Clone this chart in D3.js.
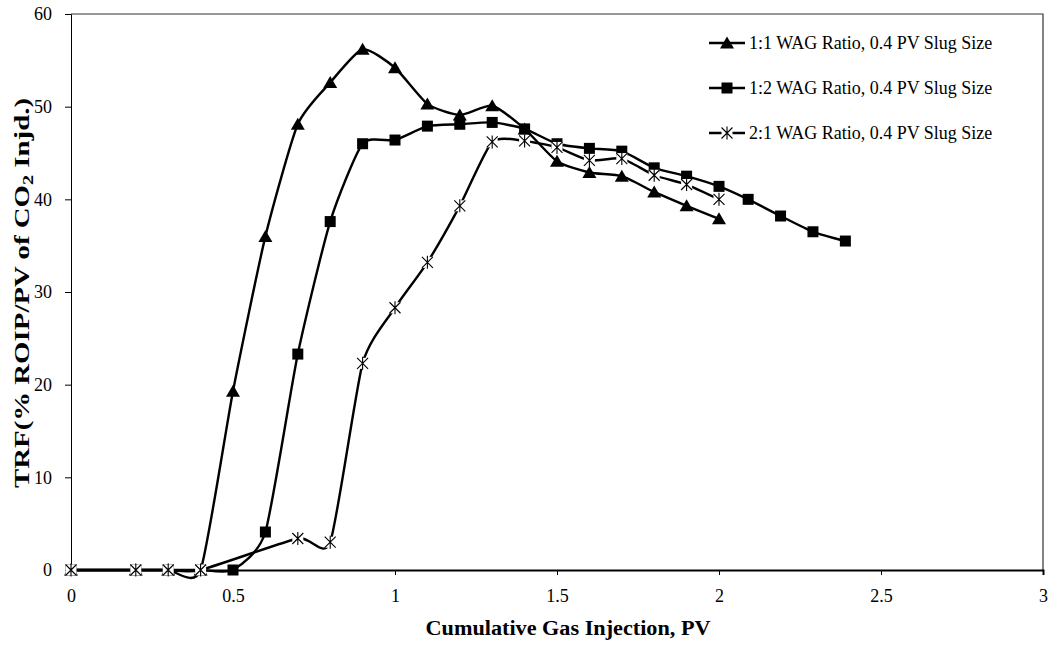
<!DOCTYPE html>
<html>
<head>
<meta charset="utf-8">
<script src="https://cdn.jsdelivr.net/npm/d3@7"></script>
<style>
  body { margin: 0; background: #fff; }
  svg { font-family: "Liberation Serif", "Times New Roman", serif; }
</style>
</head>
<body>
<div id="chart"></div>
<script>
// data
const names = [
    '1:1 WAG Ratio, 0.4 PV Slug Size',
    '1:2 WAG Ratio, 0.4 PV Slug Size',
    '2:1 WAG Ratio, 0.4 PV Slug Size'
];
const x11 = [0, 0.2, 0.3, 0.4, 0.5, 0.6, 0.7, 0.8, 0.9, 1.0, 1.1, 1.2, 1.3, 1.4, 1.5, 1.6, 1.7, 1.8, 1.9, 2.0];
const y11 = [0, 0, 0, 0, 19.3, 36.0, 48.1, 52.6, 56.2, 54.2, 50.3, 49.1, 50.1, 47.6, 44.1, 42.9, 42.5, 40.8, 39.3, 37.9];
const x12 = [0, 0.2, 0.3, 0.4, 0.5, 0.6, 0.7, 0.8, 0.9, 1.0, 1.1, 1.2, 1.3, 1.4, 1.5, 1.6, 1.7, 1.8, 1.9, 2.0, 2.09, 2.19, 2.29, 2.39];
const y12 = [0, 0, 0, 0, 0, 4.1, 23.3, 37.6, 46.0, 46.4, 47.9, 48.1, 48.3, 47.6, 46.0, 45.5, 45.2, 43.4, 42.5, 41.4, 40.0, 38.2, 36.5, 35.5];
const x21 = [0, 0.2, 0.3, 0.4, 0.7, 0.8, 0.9, 1.0, 1.1, 1.2, 1.3, 1.4, 1.5, 1.6, 1.7, 1.8, 1.9, 2.0];
const y21 = [0, 0, 0, 0, 3.4, 3.0, 22.3, 28.3, 33.2, 39.3, 46.2, 46.3, 45.6, 44.2, 44.4, 42.6, 41.6, 40.0];
const xTicks = [0, 0.5, 1, 1.5, 2, 2.5, 3];
const yTicks = [0, 10, 20, 30, 40, 50, 60];

const W = 1056, H = 646;
const margin = {top: 14, right: 13, bottom: 76, left: 71};
const width = W - margin.left - margin.right;
const height = H - margin.top - margin.bottom;

const svg = d3.select('#chart').append('svg')
    .attr('width', W)
    .attr('height', H);
const g = svg.append('g')
    .attr('transform', 'translate(' + margin.left + ',' + margin.top + ')');

const x = d3.scaleLinear().domain([0, 3]).range([0, width]);
const y = d3.scaleLinear().domain([0, 60]).range([height, 0]);

// plot frame (top and right)
g.append('path')
    .attr('d', 'M0,0H' + width + 'V' + height)
    .attr('fill', 'none')
    .attr('stroke', '#333')
    .attr('stroke-width', 1.2);

// axes
const xAxis = g.append('g')
    .attr('transform', 'translate(0,' + height + ')')
    .call(d3.axisBottom(x).tickValues(xTicks).tickSize(5).tickPadding(14).tickFormat(d => d));
const yAxis = g.append('g')
    .call(d3.axisLeft(y).tickValues(yTicks).tickSize(6).tickPadding(13));
[xAxis, yAxis].forEach(a => {
    a.select('.domain').attr('stroke', '#000');
    a.selectAll('.tick line').attr('stroke', '#000');
    a.selectAll('text').attr('font-size', 18).attr('fill', '#000')
        .attr('font-family', '"Liberation Serif", serif');
});
xAxis.select('.domain').attr('stroke-width', 2);

// axis titles
svg.append('text')
    .attr('x', 568)
    .attr('y', 635)
    .attr('text-anchor', 'middle')
    .attr('font-size', 20)
    .attr('font-weight', 'bold')
    .attr('textLength', 285)
    .attr('lengthAdjust', 'spacingAndGlyphs')
    .text('Cumulative Gas Injection, PV');

const yt = svg.append('text')
    .attr('transform', 'translate(29,488) rotate(-90)')
    .attr('text-anchor', 'start')
    .attr('font-size', 20)
    .attr('font-weight', 'bold')
    .attr('textLength', 390)
    .attr('lengthAdjust', 'spacingAndGlyphs');
yt.append('tspan').text('TRF(% ROIP/PV of CO');
yt.append('tspan').attr('font-size', 14).attr('dy', 4).text('2');
yt.append('tspan').attr('dy', -4).text(' Injd.)');

// marker shapes
function marker(sel, kind) {
    if (kind === 0) {
        sel.append('path').attr('d', 'M0,-6.5L7,5.5L-7,5.5Z').attr('fill', '#000');
    } else if (kind === 1) {
        sel.append('rect').attr('x', -5.5).attr('y', -5.5).attr('width', 11).attr('height', 11).attr('fill', '#000');
    } else {
        sel.append('rect').attr('x', -5.5).attr('y', -5.5).attr('width', 11).attr('height', 11).attr('fill', '#fff');
        sel.append('path').attr('d', 'M-5.5,-5.5L5.5,5.5M5.5,-5.5L-5.5,5.5M0,-6.5V6.5')
            .attr('stroke', '#000').attr('stroke-width', 1.1).attr('fill', 'none');
    }
}

const series = [
    {xs: x11, ys: y11},
    {xs: x12, ys: y12},
    {xs: x21, ys: y21}
];

const line = d3.line()
    .x(d => x(d[0]))
    .y(d => y(d[1]))
    .curve(d3.curveCardinal.tension(0.4));

series.forEach((s, i) => {
    const pts = s.xs.map((v, j) => [v, s.ys[j]]);
    g.append('path')
        .datum(pts)
        .attr('d', line)
        .attr('fill', 'none')
        .attr('stroke', '#000')
        .attr('stroke-width', 2.4);
});
series.forEach((s, i) => {
    const pts = s.xs.map((v, j) => [v, s.ys[j]]);
    g.selectAll('.m' + i)
        .data(pts)
        .enter().append('g')
        .attr('class', 'm' + i)
        .attr('transform', d => 'translate(' + x(d[0]) + ',' + y(d[1]) + ')')
        .each(function() { marker(d3.select(this), i); });
});

// legend
const legend = svg.append('g');
names.forEach((n, i) => {
    const ly = 43 + i * 45;
    const item = legend.append('g').attr('transform', 'translate(727,' + ly + ')');
    item.append('line').attr('x1', -18).attr('x2', 18)
        .attr('stroke', '#000').attr('stroke-width', 2.4);
    marker(item, i);
    item.append('text')
        .attr('x', 22).attr('y', 6)
        .attr('font-size', 18)
        .text(n);
});
</script>
</body>
</html>
